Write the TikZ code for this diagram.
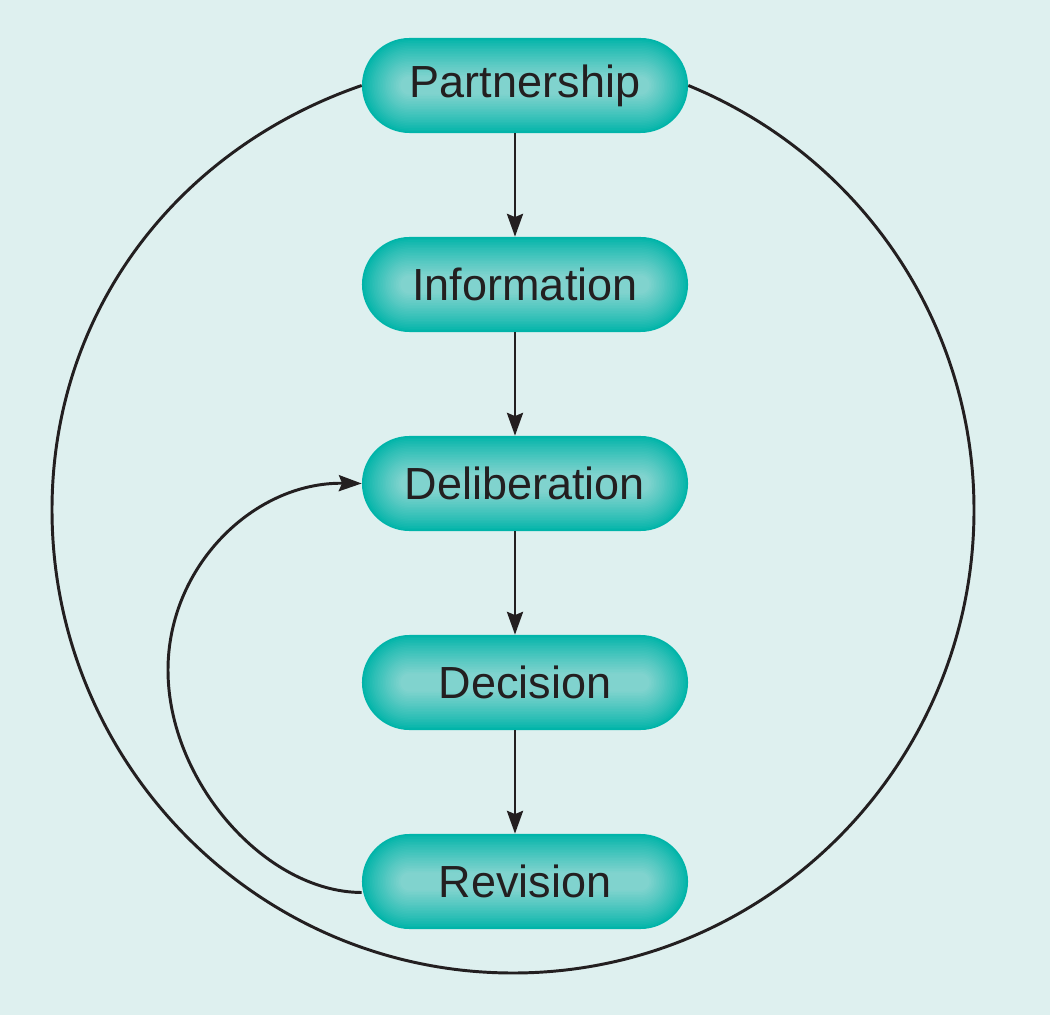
\documentclass[tikz,border=0pt]{standalone}
\usepackage{fontspec}
\setmainfont{Liberation Sans}
\usetikzlibrary{arrows.meta}
\definecolor{bgmint}{RGB}{222,240,239}
\definecolor{tealedge}{RGB}{0,180,169}
\definecolor{tealcenter}{RGB}{128,211,206}
\definecolor{textdark}{RGB}{35,31,32}
\newcommand\stgfont{\fontsize{32pt}{38pt}\selectfont}
\tikzset{
  stage/.style={rectangle, rounded corners=1.1875cm, minimum width=8.15cm,
    minimum height=2.375cm, inner sep=0pt, fill=tealedge, font=\stgfont, text=textdark,
    path picture={
      \foreach \i in {1,...,24}{
        \pgfmathsetmacro{\ins}{\i*0.04}
        \pgfmathsetmacro{\rad}{1.1875-\ins}
        \pgfmathtruncatemacro{\mix}{100*(\i/24)^0.85}
        \fill[tealcenter!\mix!tealedge, rounded corners=\rad cm]
          ([shift={(\ins cm,\ins cm)}]path picture bounding box.south west) rectangle
          ([shift={(-\ins cm,-\ins cm)}]path picture bounding box.north east);
      }
    }},
  conn/.style={draw=textdark, line width=2.1pt},
  arr/.style={conn, -{Stealth[length=0.57cm, width=0.4cm, inset=0.08cm]}}
}
\begin{document}
\begin{tikzpicture}[x=0.025cm, y=0.025cm]
\useasboundingbox (0,0) rectangle (1050,1015);
\fill[bgmint] (0,0) rectangle (1050,1015);

\node[stage] (P) at (525,929.5) {Partnership};
\node[stage] (I) at (525,730.5) {Information};
\node[stage] (D) at (525,531.5) {Deliberation};
\node[stage] (C) at (525,332.5) {Decision};
\node[stage] (R) at (525,133.5) {Revision};

\draw[arr] ([xshift=-0.25cm]P.south) -- ([xshift=-0.25cm]I.north);
\draw[arr] ([xshift=-0.25cm]I.south) -- ([xshift=-0.25cm]D.north);
\draw[arr] ([xshift=-0.25cm]D.south) -- ([xshift=-0.25cm]C.north);
\draw[arr] ([xshift=-0.25cm]C.south) -- ([xshift=-0.25cm]R.north);

\draw[arr] ([yshift=-0.275cm]R.west) .. controls (265,123) and (168,234) .. (168,345)
  .. controls (168,449) and (254,533) .. (D.west);

\draw[conn] (P.west) .. controls (175.6,865.3) and (52,702) .. (52,505)
  .. controls (52,250.4) and (258.4,42) .. (513,42)
  .. controls (767.6,42) and (974,250.4) .. (974,505)
  .. controls (974,692) and (861,858.6) .. (P.east);
\end{tikzpicture}
\end{document}
